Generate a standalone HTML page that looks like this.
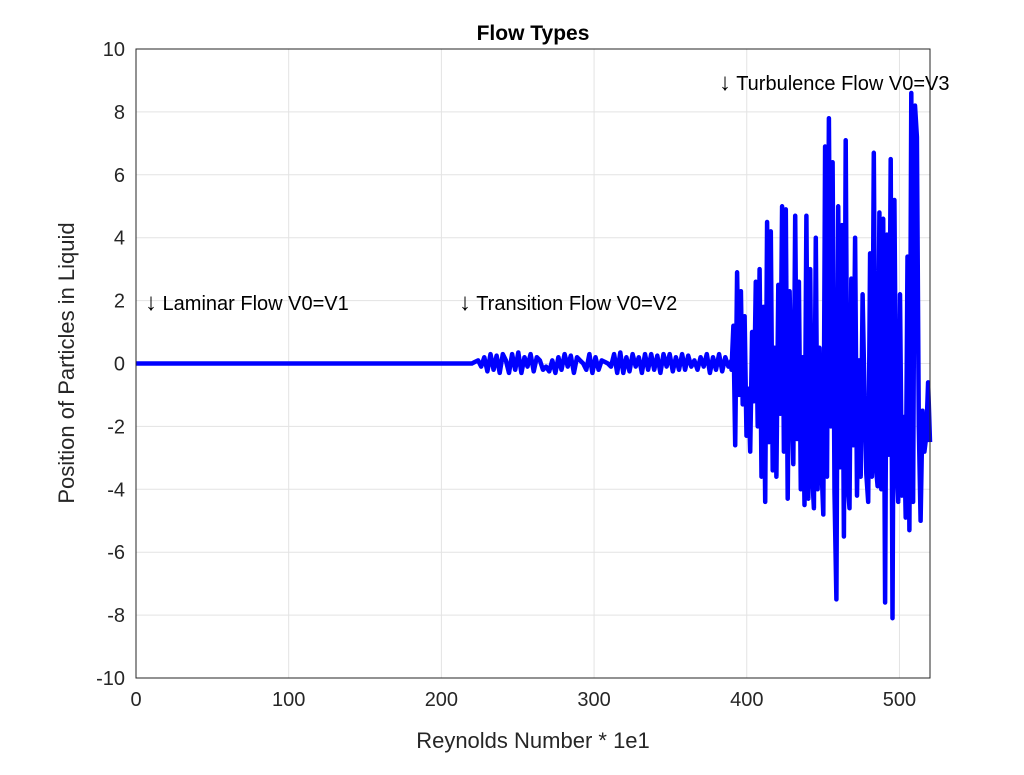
<!DOCTYPE html>
<html><head><meta charset="utf-8"><style>
body{margin:0;background:#fff;}
svg{display:block;font-family:"Liberation Sans",sans-serif;}
</style></head><body>
<svg id="chart" width="1024" height="775" viewBox="0 0 1024 775">
<g id="grid"></g>
<g id="plot"></g>
<rect x="136" y="49" width="794" height="629" fill="none" stroke="#262626" stroke-width="1"/>
<g id="ticks"></g>
<text x="533" y="40" text-anchor="middle" font-size="21" font-weight="bold" fill="#000">Flow Types</text>
<text x="533" y="748" text-anchor="middle" font-size="22" fill="#262626">Reynolds Number * 1e1</text>
<text transform="translate(74,363) rotate(-90)" text-anchor="middle" font-size="22" fill="#262626">Position of Particles in Liquid</text>
<text x="145" y="310" font-size="20" fill="#000"><tspan font-size="24">↓</tspan> Laminar Flow V0=V1</text>
<text x="459" y="310" font-size="20" fill="#000"><tspan font-size="24">↓</tspan> Transition Flow V0=V2</text>
<text x="719" y="90" font-size="20" fill="#000"><tspan font-size="24">↓</tspan> Turbulence Flow V0=V3</text>
</svg>
<script>
const xTicks=[0,100,200,300,400,500];
const yTicks=[-10,-8,-6,-4,-2,0,2,4,6,8,10];
const laminarX=[0,220];
const transRange=[220,390];
const transVals=[0,0.05,0.1,-0.1,0.2,-0.25,0.3,-0.2,0.25,-0.3,0.3,0.1,-0.3,0.3,-0.2,0.35,-0.3,0.2,-0.1,0.3,-0.25,0.2,0.1,-0.2,-0.1,-0.25,0.1,-0.3,0.2,-0.2,0.3,-0.1,0.25,-0.3,0.2,0.1,0,-0.2,0.3,-0.3,0.2,-0.2,0.1,0.05,0,-0.1,0.3,-0.3,0.35,-0.3,0.2,-0.25,0.3,-0.1,0.2,-0.3,0.3,-0.2,0.3,-0.2,0.25,-0.3,0.3,-0.1,0.3,-0.25,0.2,-0.2,0.3,-0.2,0.25,-0.1,0.1,-0.2,0.2,-0.1,0.3,-0.3,0.2,-0.2,0.3,-0.25,0.2,-0.1,0.1];
const turbRange=[390,520];
const turbVals=[-0.2,1.2,-2.6,2.9,-1.0,2.3,-1.3,1.5,-2.3,-0.8,-2.8,1.0,-1.2,2.6,-2.0,3.0,-3.6,1.8,-4.4,4.5,-2.5,4.2,-3.4,0.5,-3.6,2.5,-1.6,5.0,-2.8,4.9,-4.3,2.3,-0.6,-3.2,4.7,-2.4,2.6,-4.0,0.2,-4.5,4.7,-4.3,3.0,-3.4,-4.6,4.0,-4.0,0.5,-3.2,-4.8,6.9,-3.6,7.8,-2.0,6.4,-4.1,-7.5,5.0,-3.3,4.4,-5.5,7.1,-3.8,-4.6,2.7,-2.6,4.0,-4.2,0.1,-3.6,2.2,-1.0,-3.5,-4.4,3.5,-3.6,6.7,-3.2,-3.9,4.8,-4.0,4.6,-7.6,4.1,-2.9,6.5,-8.1,5.2,-3.0,-4.4,2.2,-4.2,-1.7,-4.9,3.4,-5.3,8.6,-4.4,8.2,7.2,-2.0,-5.0,-1.5,-2.8,-2.3,-0.6,-2.5];
const NS="http://www.w3.org/2000/svg";
const X0=136,X1=930,Y0=678,Y1=49;
function sx(v){return X0+(v-0)/(520-0)*(X1-X0);}
function sy(v){return Y0-(v+10)/20*(Y0-Y1);}
const grid=document.getElementById('grid'),ticks=document.getElementById('ticks'),plot=document.getElementById('plot');
function mk(tag,attrs,parent){const e=document.createElementNS(NS,tag);for(const k in attrs)e.setAttribute(k,attrs[k]);parent.appendChild(e);return e;}
xTicks.forEach(t=>{
 const g=mk('line',{x1:sx(t),x2:sx(t),y1:Y1,y2:Y0,stroke:'#e3e3e3','stroke-width':1},grid);
 
 
 const l=mk('text',{x:sx(t),y:Y0+28,'text-anchor':'middle','font-size':20,fill:'#262626'},ticks);
 l.textContent=t;
 
 
});
yTicks.forEach(t=>{
 const g=mk('line',{x1:X0,x2:X1,y1:sy(t),y2:sy(t),stroke:'#e3e3e3','stroke-width':1},grid);
 
 
 const l=mk('text',{x:X0-11,y:sy(t)+7,'text-anchor':'end','font-size':20,fill:'#262626'},ticks);
 l.textContent=t;
 
 
});
let pts=[[laminarX[0],0],[laminarX[1],0]];
const ts=(transRange[1]-transRange[0])/(transVals.length-1);
transVals.forEach((v,i)=>pts.push([transRange[0]+i*ts,v]));
const us=(turbRange[1]-turbRange[0])/(turbVals.length-1);
turbVals.forEach((v,i)=>pts.push([turbRange[0]+i*us,v]));
const line=mk('polyline',{points:pts.map(p=>sx(p[0]).toFixed(1)+','+sy(p[1]).toFixed(1)).join(' '),fill:'none',stroke:'#0000ff','stroke-width':4.5,'stroke-linejoin':'round'},plot);


</script>
</body></html>
